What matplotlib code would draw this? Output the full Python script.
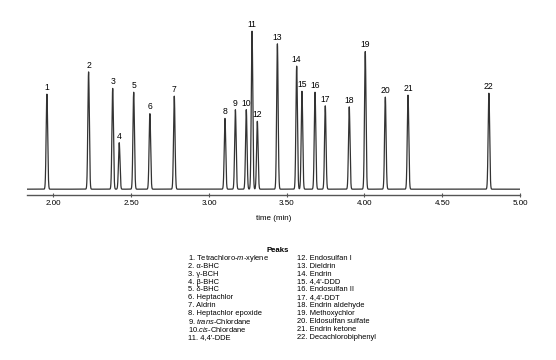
import numpy as np
import matplotlib.pyplot as plt

plt.rcParams['font.family'] = ['Liberation Sans', 'DejaVu Sans']
plt.rcParams['mathtext.fontset'] = 'custom'
plt.rcParams['mathtext.rm'] = 'Liberation Sans'
plt.rcParams['mathtext.it'] = 'Liberation Sans:italic'

# retention times (min) and peak heights
times = [1.958, 2.226, 2.381, 2.423, 2.516, 2.620, 2.777, 3.103, 3.170, 3.240, 3.277,
         3.311, 3.440, 3.564, 3.598, 3.682, 3.748, 3.902, 4.005, 4.134, 4.280, 4.800]
heights = [98, 121, 104, 48, 100, 78, 96, 73, 82, 82, 163,
           70, 150, 127, 101, 100, 86, 85, 142, 95, 97, 99]
labels = [str(i + 1) for i in range(len(times))]

peaks_left = ['1. Tetrachloro-$\\mathit{m}$-xylene', '2. α-BHC', '3. γ-BCH', '4. β-BHC',
              '5. δ-BHC', '6. Heptachlor', '7. Aldrin', '8. Heptachlor epoxide',
              '9. $\\mathit{trans}$-Chlordane', '10.$\\mathit{cis}$-Chlordane', '11. 4,4\'-DDE']
peaks_right = ['12. Endosulfan I', '13. Dieldrin', '14. Endrin', '15. 4,4\'-DDD',
               '16. Endosulfan II', '17. 4,4\'-DDT', '18. Endrin aldehyde',
               '19. Methoxychlor', '20. Eldosulfan sulfate', '21. Endrin ketone',
               '22. Decachlorobiphenyl']

W, H = 556, 360
fig = plt.figure(figsize=(W / 100, H / 100), dpi=100)
ax = fig.add_axes([27 / W, 1 - 194.7 / H, 493 / W, (194.7 - 15) / H])

t = np.linspace(1.83, 5.0, 8000)
sigma = 0.0048
y = np.zeros_like(t)
for tr, h in zip(times, heights):
    y += h * np.exp(-0.5 * ((t - tr) / sigma) ** 2)
ax.plot(t, y, color='#333333', lw=0.9)

for tr, h, lab in zip(times, heights, labels):
    ax.annotate(lab, (tr, h), xytext=(0, 1.5), textcoords='offset points',
                ha='center', va='bottom', fontsize=6.2)

ax.set_xlim(1.83, 5.0)
ax.set_ylim(-5.7, 179.7)
for s in ['top', 'left', 'right']:
    ax.spines[s].set_visible(False)
ax.spines['bottom'].set_color('#555555')
ax.spines['bottom'].set_linewidth(1.0)
ax.set_yticks([])
ax.set_xticks([2.0, 2.5, 3.0, 3.5, 4.0, 4.5, 5.0])
ax.set_xticklabels(['2.00', '2.50', '3.00', '3.50', '4.00', '4.50', '5.00'])
ax.tick_params(axis='x', direction='inout', length=3, width=0.8, color='#555555',
               labelsize=5.8, pad=2)
ax.set_xlabel('time (min)', fontsize=5.8, labelpad=6)

fig.text(278 / W, 1 - 250 / H, 'Peaks', fontsize=5.6, fontweight='bold',
         ha='center', va='center')
for i, s in enumerate(peaks_left):
    fig.text(188 / W, 1 - (258.3 + i * 7.9) / H, s, fontsize=5.4, va='center')
for i, s in enumerate(peaks_right):
    fig.text(297 / W, 1 - (258.3 + i * 7.9) / H, s, fontsize=5.4, va='center')

fig.savefig('out.png', dpi=100)
